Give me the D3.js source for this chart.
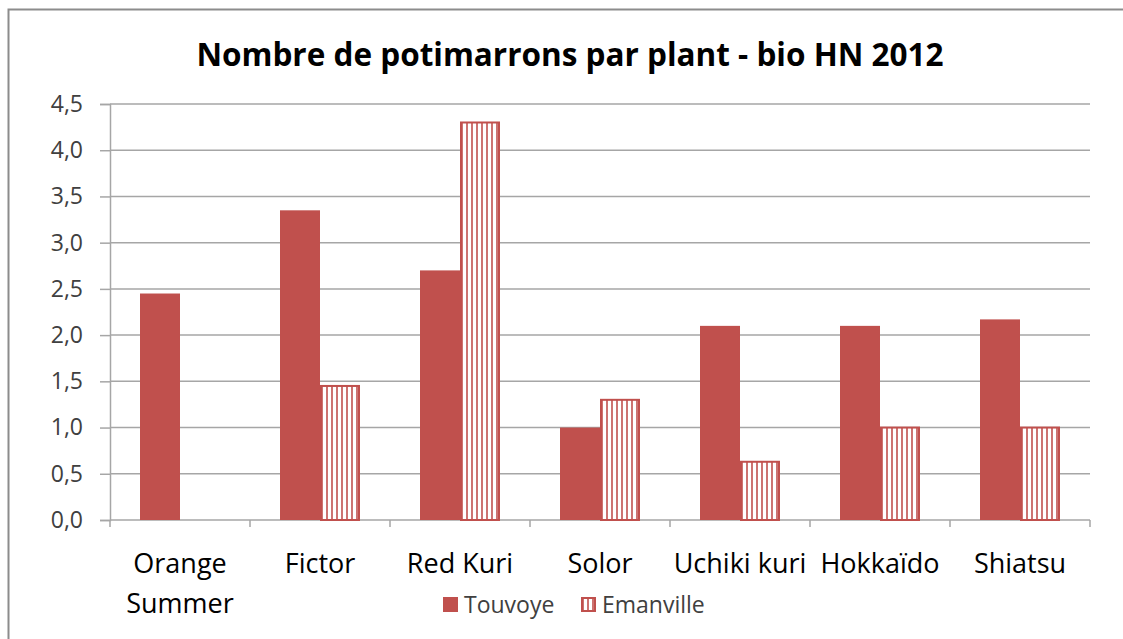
<!DOCTYPE html>
<html>
<head>
<meta charset="utf-8">
<script src="https://cdn.jsdelivr.net/npm/d3@7"></script>
<style>
  body { margin: 0; background: #fff; }
  text { font-family: "Open Sans", "Noto Sans", sans-serif; }
</style>
</head>
<body>
<script>
// data
var categories = ["Orange Summer", "Fictor", "Red Kuri", "Solor", "Uchiki kuri", "Hokkaïdo", "Shiatsu"];
var touvoye = [2.45, 3.35, 2.7, 1.0, 2.1, 2.1, 2.17];
var emanville = [0, 1.45, 4.3, 1.3, 0.63, 1.0, 1.0];
var series = ["Touvoye", "Emanville"];
var yTicks = [0, 0.5, 1, 1.5, 2, 2.5, 3, 3.5, 4, 4.5];

var w = 1123, h = 639;
var plotLeft = 110, plotRight = 1090, plotTop = 104, plotBottom = 520;
var red = "#C0504D";

var svg = d3.select("body").append("svg").attr("width", w).attr("height", h);

// stripe pattern for Emanville
var pat = svg.append("defs").append("pattern")
    .attr("id", "stripes").attr("patternUnits", "userSpaceOnUse")
    .attr("width", 5).attr("height", 10);
pat.append("rect").attr("width", 5).attr("height", 10).attr("fill", "#fff");
pat.append("line").attr("x1", 2).attr("x2", 2).attr("y1", 0).attr("y2", 10)
    .attr("stroke", red).attr("stroke-width", 1.6);

// outer frame (right and bottom edges fall outside the picture)
svg.append("rect").attr("x", 8.5).attr("y", 9.5).attr("width", 1130).attr("height", 640)
    .attr("fill", "none").attr("stroke", "#8c8c8c").attr("stroke-width", 2);

var x0 = d3.scaleBand().domain(categories).range([plotLeft, plotRight]);
var x1 = d3.scaleBand().domain(series).range([30, 110]);
var y = d3.scaleLinear().domain([0, 4.5]).range([plotBottom, plotTop]);

// gridlines
svg.append("g").selectAll("line").data(yTicks.slice(1)).enter().append("line")
    .attr("x1", plotLeft).attr("x2", plotRight)
    .attr("y1", d => y(d)).attr("y2", d => y(d))
    .attr("stroke", "#a6a6a6").attr("stroke-width", 1.5);

// y axis
var yAxis = d3.axisLeft(y).tickValues(yTicks).tickSize(10).tickPadding(17)
    .tickFormat(d => d3.format(".1f")(d).replace(".", ","));
var gy = svg.append("g").attr("transform", "translate(" + plotLeft + ",0)").call(yAxis);
gy.select(".domain").attr("stroke", "#a6a6a6").attr("stroke-width", 1.5);
gy.selectAll(".tick line").attr("stroke", "#a6a6a6").attr("stroke-width", 1.5);
gy.selectAll("text").attr("font-size", 23).attr("fill", "#404040").attr("font-family", "Open Sans");

// x axis
svg.append("line").attr("x1", plotLeft).attr("x2", plotRight).attr("y1", plotBottom).attr("y2", plotBottom)
    .attr("stroke", "#a6a6a6").attr("stroke-width", 1.5);
svg.append("g").selectAll("line").data(d3.range(categories.length + 1)).enter().append("line")
    .attr("x1", i => plotLeft + i * x0.bandwidth()).attr("x2", i => plotLeft + i * x0.bandwidth())
    .attr("y1", plotBottom).attr("y2", plotBottom + 7)
    .attr("stroke", "#a6a6a6").attr("stroke-width", 1.5);

// bars
var groups = svg.append("g").selectAll("g").data(categories).enter().append("g")
    .attr("transform", d => "translate(" + x0(d) + ",0)");
groups.append("rect")
    .attr("x", x1("Touvoye")).attr("width", x1.bandwidth())
    .attr("y", (d, i) => y(touvoye[i])).attr("height", (d, i) => plotBottom - y(touvoye[i]))
    .attr("fill", red);
groups.filter((d, i) => emanville[i] > 0).append("rect")
    .attr("x", x1("Emanville") + 1).attr("width", x1.bandwidth() - 2)
    .attr("y", d => y(emanville[categories.indexOf(d)]))
    .attr("height", d => plotBottom - y(emanville[categories.indexOf(d)]))
    .attr("fill", "url(#stripes)").attr("stroke", red).attr("stroke-width", 2);

// category labels
var labels = svg.append("g").selectAll("text").data(categories).enter().append("text")
    .attr("x", d => x0(d) + x0.bandwidth() / 2).attr("y", 573)
    .attr("text-anchor", "middle").attr("font-size", 27).attr("fill", "#000");
labels.each(function (d) {
    var t = d3.select(this);
    var parts = d === "Orange Summer" ? ["Orange", "Summer"] : [d];
    parts.forEach(function (p, i) {
        t.append("tspan").attr("x", x0(d) + x0.bandwidth() / 2).attr("dy", i === 0 ? 0 : 40).text(p);
    });
});

// title
svg.append("text").attr("x", 570).attr("y", 66).attr("text-anchor", "middle")
    .attr("font-size", 31.5).attr("font-weight", "bold").attr("fill", "#000")
    .text("Nombre de potimarrons par plant - bio HN 2012");

// legend
var legend = svg.append("g").selectAll("g").data(series).enter().append("g")
    .attr("transform", (d, i) => "translate(" + (443 + i * 138) + ",597)");
legend.append("rect").attr("x", (d, i) => i ? 1 : 0).attr("y", (d, i) => i ? 1 : 0)
    .attr("width", (d, i) => i ? 13 : 15).attr("height", (d, i) => i ? 13 : 15)
    .attr("fill", (d, i) => i ? "url(#stripes)" : red)
    .attr("stroke", (d, i) => i ? red : "none").attr("stroke-width", 2);
legend.append("text").attr("x", 21).attr("y", 16).attr("font-size", 23).attr("fill", "#404040")
    .text(d => d);
</script>
</body>
</html>
